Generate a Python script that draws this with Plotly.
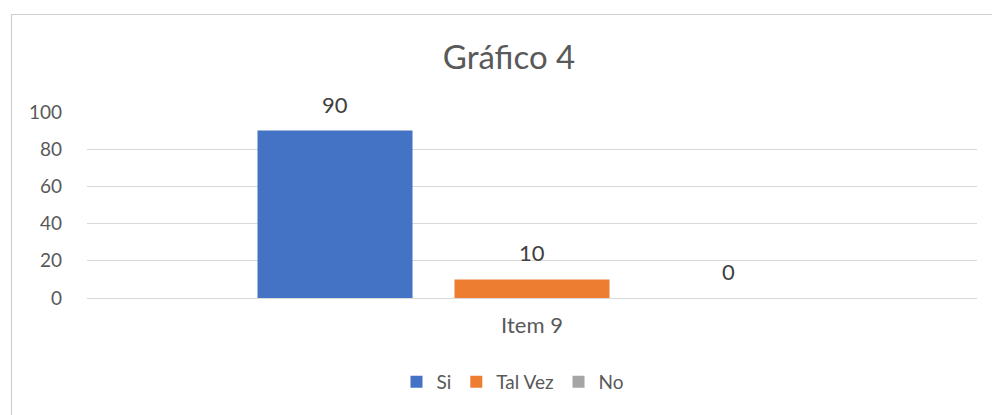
import plotly.graph_objects as go

categories = ["Item 9"]
series_names = ["Si", "Tal Vez", "No"]
series_values = [[90], [10], [0]]
series_colors = ["#4472C4", "#ED7D31", "#A5A5A5"]
y_ticks = [0, 20, 40, 60, 80, 100]

FONT = "Lato, 'Open Sans', sans-serif"
BARGAP = 0.336
BARGROUPGAP = 0.213

fig = go.Figure()
for name, vals, col in zip(series_names, series_values, series_colors):
    fig.add_trace(go.Bar(
        x=categories, y=vals, name=name,
        marker=dict(color=col, line=dict(width=0)),
        cliponaxis=False,
    ))

# data labels above each bar (Excel "outside end" style)
n = len(series_names)
slot = (1 - BARGAP) / n
annotations = []
for i, vals in enumerate(series_values):
    for ci, v in enumerate(vals):
        annotations.append(dict(
            x=ci + (i - (n - 1) / 2) * slot, y=v, xref="x", yref="y",
            text=str(v), showarrow=False, yanchor="bottom", xanchor="center", yshift=11,
            font=dict(size=22, color="#404040", family=FONT)))

fig.update_layout(
    width=992, height=415,
    margin=dict(l=87, r=15, t=112, b=117),
    paper_bgcolor="white", plot_bgcolor="white",
    barmode="group", bargap=BARGAP, bargroupgap=BARGROUPGAP,
    title=dict(text="Gráfico 4", x=509/992, xanchor="center", y=1 - 57/415, yanchor="middle",
               font=dict(size=33, color="#595959", family=FONT)),
    font=dict(family=FONT, color="#595959", size=16),
    showlegend=True,
    legend=dict(orientation="h", x=(513-87)/890, xanchor="center", y=(298-382)/186, yanchor="middle",
                font=dict(size=19, color="#595959"), itemwidth=30, traceorder="normal"),
    xaxis=dict(showgrid=False, showline=False, ticks="", ticklabelstandoff=12,
               tickfont=dict(size=22, color="#595959")),
    yaxis=dict(range=[0, 100], tickvals=y_ticks, showgrid=True, gridcolor="#D9D9D9", gridwidth=1,
               zeroline=True, zerolinecolor="#D9D9D9", zerolinewidth=1, showline=False, ticks="",
               ticklabelstandoff=24, tickfont=dict(size=19, color="#595959")),
    annotations=annotations,
    shapes=[dict(type="rect", xref="paper", yref="paper",
                 x0=(11.5-87)/890, x1=(1000-87)/890, y0=(298-430)/186, y1=(298-14.5)/186,
                 line=dict(color="#D0D0D0", width=1.2), fillcolor="rgba(0,0,0,0)", layer="below")],
)

fig.write_html("out.html", config={"displayModeBar": False})

# remove the default page margin so the figure sits at the window origin
with open("out.html", encoding="utf-8") as f:
    html = f.read()
html = html.replace("<head>", "<head><style>html,body{margin:0;padding:0;overflow:hidden;}</style>", 1)
with open("out.html", "w", encoding="utf-8") as f:
    f.write(html)
